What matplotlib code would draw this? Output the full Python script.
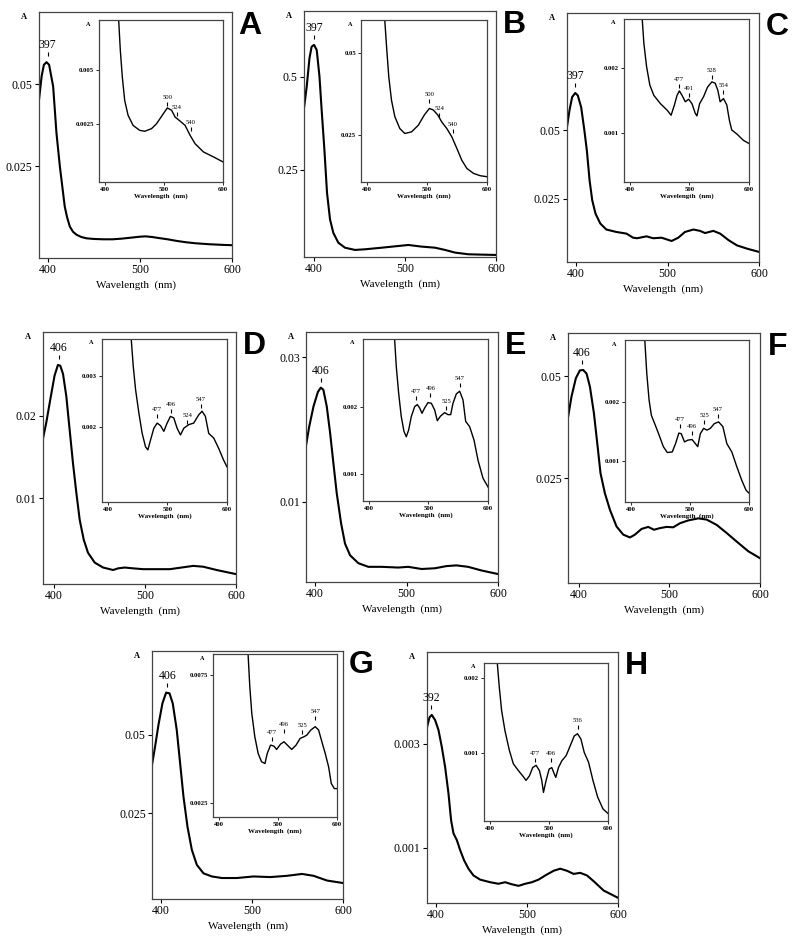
import matplotlib
matplotlib.use("Agg")
import matplotlib.pyplot as plt
from matplotlib.transforms import offset_copy

# ---- spectra (wavelength in nm, absorbance) ----
# A
a_wl = [390, 392.8, 395.3, 398.2, 401, 405.4, 409, 412.7, 418, 420.5, 423.5, 427, 430.8, 436, 441.7, 450, 460, 470, 480, 490, 500, 506, 513, 520, 530, 540, 550, 560, 575, 590, 600]
a_ab = [0.0452, 0.0523, 0.0559, 0.0567, 0.0559, 0.0493, 0.0351, 0.0249, 0.0127, 0.0095, 0.0066, 0.0050, 0.0041, 0.0034, 0.0030, 0.0028, 0.0027, 0.0027, 0.0029, 0.0032, 0.0035, 0.0036, 0.0034, 0.0031, 0.0027, 0.0022, 0.0018, 0.0015, 0.0012, 0.0010, 0.0009]
a_in_wl = [423.3, 426.1, 429.5, 433.5, 439.2, 447.7, 459, 467.6, 479, 487.5, 498.9, 505.7, 513, 518.8, 527.3, 535.8, 544.3, 552.8, 567, 584, 600]
a_in_ab = [0.0073, 0.0059, 0.00466, 0.00358, 0.00289, 0.00242, 0.00219, 0.00215, 0.00227, 0.0025, 0.00296, 0.00323, 0.00312, 0.00281, 0.00262, 0.00242, 0.00196, 0.00157, 0.00119, 0.00096, 0.00073]

# B
b_wl = [389, 392, 395, 397.4, 400, 403, 406, 408.4, 411.4, 414.3, 417.6, 421.2, 426.7, 434, 445, 456, 474.4, 492.7, 503.7, 518.3, 533, 544, 555, 569.6, 584, 600]
b_ab = [0.415, 0.473, 0.549, 0.58, 0.585, 0.571, 0.5, 0.41, 0.304, 0.1875, 0.116, 0.08, 0.0535, 0.04, 0.034, 0.0357, 0.04, 0.0446, 0.0473, 0.0429, 0.04, 0.034, 0.0268, 0.0223, 0.0214, 0.0205]
b_in_wl = [429.6, 433, 436.3, 440.8, 446.4, 454.7, 463, 474.3, 485.5, 495.5, 504, 510.6, 518, 524.6, 533, 541.3, 549.7, 558, 566.5, 577.6, 588.8, 600]
b_in_ab = [0.0599, 0.0508, 0.0427, 0.0356, 0.0306, 0.027, 0.0255, 0.026, 0.028, 0.0311, 0.0331, 0.0326, 0.0311, 0.029, 0.027, 0.0245, 0.021, 0.0174, 0.0149, 0.0134, 0.0127, 0.0124]

# C
c_wl = [389.7, 392.7, 395.6, 399, 401.8, 405.5, 409, 411.7, 414.7, 417.6, 421.2, 426.4, 433, 444, 455, 462.3, 466.7, 477, 484.2, 493.4, 498.9, 504.4, 511.7, 519, 528.2, 535.5, 541, 550, 557.5, 566.7, 575.8, 586.8, 600]
c_ab = [0.0506, 0.0573, 0.0622, 0.0637, 0.0628, 0.0585, 0.05, 0.0427, 0.0317, 0.0244, 0.0195, 0.0159, 0.0137, 0.0128, 0.0122, 0.0107, 0.0105, 0.0112, 0.0105, 0.0107, 0.0101, 0.0095, 0.0107, 0.0128, 0.0137, 0.0132, 0.0124, 0.0132, 0.0122, 0.0098, 0.0079, 0.0067, 0.0055]
c_in_wl = [420.6, 423.4, 427.9, 433.4, 440.1, 451.3, 462.4, 469.1, 474.7, 479.1, 483, 487.5, 493, 498.6, 504.2, 509.7, 512.5, 517, 523.7, 530.4, 537.6, 543.2, 547.6, 551.5, 557.1, 562.7, 567.1, 571, 579.4, 590.5, 600]
c_in_ab = [0.00277, 0.00239, 0.00203, 0.00174, 0.00158, 0.00145, 0.00135, 0.00127, 0.00143, 0.00158, 0.00165, 0.00158, 0.00148, 0.00152, 0.00145, 0.0013, 0.00126, 0.00145, 0.00156, 0.00171, 0.00179, 0.00177, 0.00166, 0.00148, 0.00153, 0.00143, 0.00119, 0.00104, 0.00098, 0.00088, 0.00083]

# D
d_wl = [387.9, 391.6, 396, 400.7, 404.4, 407, 410, 413.6, 417.2, 420.9, 424.6, 428.3, 432.7, 437.4, 444.8, 454, 465, 470.5, 477.8, 487, 498, 512.7, 527.3, 540.2, 553, 564, 578.7, 600]
d_ab = [0.0172, 0.0192, 0.022, 0.0249, 0.0262, 0.0261, 0.0251, 0.0224, 0.0184, 0.0143, 0.0107, 0.0074, 0.005, 0.0034, 0.0022, 0.0016, 0.0013, 0.0015, 0.0016, 0.0015, 0.0014, 0.0014, 0.0014, 0.0016, 0.0018, 0.0017, 0.0013, 0.0008]
d_in_wl = [439.1, 442.5, 446.4, 452, 457.5, 463.1, 467, 471.5, 477.1, 482.7, 488.3, 493.9, 499.4, 505, 510.6, 516.2, 521.8, 527.4, 535.8, 544.1, 552.5, 558.1, 563.7, 569.3, 577.7, 586, 594.4, 600]
d_in_ab = [0.00371, 0.00318, 0.00273, 0.00227, 0.00188, 0.00162, 0.00156, 0.00175, 0.00198, 0.00208, 0.00203, 0.00192, 0.00208, 0.00221, 0.00218, 0.00198, 0.00185, 0.00198, 0.00205, 0.00208, 0.00224, 0.00231, 0.00221, 0.00188, 0.00179, 0.00159, 0.00136, 0.00123]

# E
e_wl = [389.8, 393.5, 398.2, 403, 406.2, 409, 412.7, 416.4, 420, 423.6, 428.4, 432.7, 438.2, 447.3, 458.2, 472.7, 490.9, 501.8, 516.4, 530.9, 543.6, 554.5, 567.3, 581.8, 600]
e_ab = [0.0176, 0.0204, 0.0232, 0.0252, 0.0258, 0.0255, 0.0232, 0.0195, 0.0153, 0.0112, 0.007, 0.0042, 0.0026, 0.0015, 0.001, 0.001, 0.0009, 0.001, 0.0007, 0.0008, 0.0011, 0.0012, 0.001, 0.0005, 0.0]
e_in_wl = [443.1, 445.9, 449.9, 454.3, 458.8, 462.7, 466.7, 471.1, 476.8, 481.2, 485.2, 489.1, 493.6, 499.2, 504.8, 510.4, 514.8, 520.4, 527.2, 532.8, 537.3, 541.2, 546.8, 552.4, 558, 562.5, 569.2, 576.5, 583.2, 591.6, 600]
e_in_ab = [0.00302, 0.00261, 0.00221, 0.00186, 0.00164, 0.00156, 0.00166, 0.00186, 0.00201, 0.00204, 0.00199, 0.00191, 0.00199, 0.00207, 0.00206, 0.00196, 0.0018, 0.00187, 0.00192, 0.00189, 0.00189, 0.00206, 0.0022, 0.00224, 0.00211, 0.00179, 0.00171, 0.00151, 0.00121, 0.00094, 0.00081]

# F
f_wl = [388.2, 391.9, 396.7, 401.1, 404.8, 408.5, 412.2, 416.6, 420.3, 423.9, 428.7, 434.3, 441.6, 449, 456.4, 461.9, 469.2, 476.6, 482.9, 489.5, 496.9, 504.2, 511.6, 520.8, 531.9, 541.1, 552.1, 563.2, 574.2, 587.1, 600]
f_ab = [0.0402, 0.0451, 0.0496, 0.0515, 0.0516, 0.0507, 0.0475, 0.041, 0.0336, 0.0262, 0.0213, 0.0172, 0.0131, 0.0111, 0.0104, 0.0111, 0.0125, 0.013, 0.0123, 0.0127, 0.013, 0.0129, 0.0139, 0.0146, 0.0151, 0.0148, 0.0135, 0.0115, 0.0094, 0.007, 0.0053]
f_in_wl = [423.5, 426.9, 430.8, 434.7, 440.3, 447.6, 454.9, 461.6, 470, 475.6, 481.2, 485.2, 490.8, 496.4, 503.6, 509.2, 513.2, 517.6, 523.2, 528.9, 534.5, 541.2, 548.5, 555.7, 562.5, 570.9, 579.3, 587.7, 595, 600]
f_in_ab = [0.00305, 0.00248, 0.00203, 0.00177, 0.00163, 0.00144, 0.00124, 0.00114, 0.00115, 0.00129, 0.00147, 0.00146, 0.00132, 0.00135, 0.00136, 0.00129, 0.00124, 0.00146, 0.00155, 0.00152, 0.00155, 0.00163, 0.00166, 0.00158, 0.00129, 0.00115, 0.0009, 0.00067, 0.0005, 0.00045]

# G
g_wl = [389.7, 393.4, 397.1, 401.5, 405.5, 409.2, 412.8, 417.2, 420.9, 424.6, 429, 433.8, 439.3, 446.6, 455.8, 466.8, 483.3, 501.7, 520, 538.3, 554.9, 567.7, 582.4, 600]
g_ab = [0.0399, 0.0463, 0.0532, 0.0601, 0.0635, 0.0633, 0.0601, 0.0516, 0.041, 0.0303, 0.0207, 0.0133, 0.0085, 0.0058, 0.0048, 0.0043, 0.0043, 0.0048, 0.0046, 0.005, 0.0056, 0.005, 0.0035, 0.0027]
g_in_wl = [449.4, 452.3, 455.7, 460.8, 466.5, 472.2, 478, 481.8, 487.5, 493.2, 497.7, 504.5, 510.2, 515.9, 523.3, 530.7, 537.5, 544.3, 548.9, 555.7, 563.1, 568.8, 574.4, 580.1, 585.8, 590.3, 595.5, 600]
g_in_ab = [0.00831, 0.00704, 0.00599, 0.00508, 0.00442, 0.0041, 0.00403, 0.00442, 0.00475, 0.00471, 0.00458, 0.00479, 0.00488, 0.00475, 0.00458, 0.00475, 0.00501, 0.00508, 0.00514, 0.00534, 0.00547, 0.00534, 0.00488, 0.00442, 0.0039, 0.00325, 0.00305, 0.00305]

# H
h_wl = [389.7, 392.7, 395.2, 398.9, 402.6, 406.2, 409.9, 413.6, 416.5, 419.1, 422.8, 426.4, 430.8, 435.6, 441.1, 448.4, 459.4, 468.6, 475.9, 483.3, 490.6, 498, 505.3, 512.7, 520, 529.2, 536.5, 543.9, 551.2, 558.5, 565.9, 573.2, 584.2, 600]
h_ab = [0.0033, 0.00351, 0.00356, 0.00346, 0.00327, 0.00295, 0.00256, 0.00205, 0.00153, 0.00128, 0.00115, 0.00096, 0.00076, 0.0006, 0.00047, 0.00039, 0.00034, 0.00031, 0.00034, 0.0003, 0.00027, 0.00031, 0.00034, 0.00039, 0.00047, 0.00056, 0.0006, 0.00056, 0.0005, 0.00052, 0.00047, 0.00036, 0.00018, 0.00004]
h_in_wl = [412.5, 415.9, 419.8, 425.5, 432.9, 439.7, 448.2, 455.5, 461.2, 466.9, 472.5, 478.2, 483.9, 487.8, 490.7, 495.2, 500.3, 504.8, 508.8, 511.6, 516.1, 521.8, 529.2, 536, 542.8, 548.4, 554.1, 559.8, 567.1, 574.5, 582.4, 591.5, 600]
h_in_ab = [0.0022, 0.00188, 0.00157, 0.0013, 0.00104, 0.00086, 0.00077, 0.0007, 0.00064, 0.0007, 0.00081, 0.00084, 0.00077, 0.00064, 0.00048, 0.00064, 0.00079, 0.00081, 0.00073, 0.00068, 0.00081, 0.0009, 0.00097, 0.0011, 0.00123, 0.00126, 0.00119, 0.00101, 0.00088, 0.00064, 0.00042, 0.00026, 0.0002]

# peak labels: main (text, wavelength, absorbance) and inset marks
main_peaks = [("397", 399.5, 0.0567), ("397", 400, 0.585), ("397", 399, 0.0637), ("406", 405.5, 0.0262),
              ("406", 406.2, 0.0258), ("406", 403, 0.0516), ("406", 407, 0.0635), ("392", 394.5, 0.00356)]
a_marks = [("500", 505.7, 0.0033), ("524", 521.6, 0.00284), ("540", 545.5, 0.00215)]
b_marks = [("500", 504, 0.0346), ("524", 520.7, 0.0306), ("540", 543, 0.0255)]
c_marks = [("477", 481.9, 0.00169), ("491", 499.7, 0.00156), ("528", 537.6, 0.00183), ("554", 557.1, 0.0016)]
d_marks = [("477", 482.7, 0.00218), ("496", 506.1, 0.00227), ("524", 533, 0.00206), ("547", 556.4, 0.00237)]
e_marks = [("477", 479.6, 0.00211), ("496", 503.1, 0.00216), ("525", 530, 0.00196), ("547", 552.4, 0.0023)]
f_marks = [("477", 482.4, 0.00156), ("496", 503.1, 0.00144), ("525", 524.4, 0.00162), ("547", 546.8, 0.00172)]
g_marks = [("477", 490.3, 0.00492), ("496", 510.2, 0.00521), ("525", 541.5, 0.00517), ("547", 563.1, 0.00573)]
h_marks = [("477", 476.5, 0.00088), ("496", 503.1, 0.00088), ("536", 548.4, 0.00132)]

# axis ranges and ticks
main_ylims = [(-0.003, 0.072), (0.015, 0.676), (0.0018, 0.093), (-0.0004, 0.0302),
              (-0.0011, 0.0335), (-0.0008, 0.0607), (-0.0024, 0.0768), (-0.00006, 0.00477)]
main_yticks = [(0.025, 0.05), (0.25, 0.5), (0.025, 0.05), (0.01, 0.02),
               (0.01, 0.03), (0.025, 0.05), (0.025, 0.05), (0.001, 0.003)]
main_ytlabels = [("0.025", "0.05"), ("0.25", "0.5"), ("0.025", "0.05"), ("0.01", "0.02"),
                 ("0.01", "0.03"), ("0.025", "0.05"), ("0.025", "0.05"), ("0.001", "0.003")]
main_xmin = [390, 389, 390, 388, 390, 388, 390, 390]
inset_ylims = [(-0.0002, 0.0073), (0.0108, 0.0599), (0.00023, 0.00277), (0.00055, 0.00371),
               (0.0006, 0.00302), (0.0003, 0.00305), (0.00194, 0.00831), (0.0001, 0.0022)]
inset_yticks = [(0.0025, 0.005), (0.025, 0.05), (0.001, 0.002), (0.002, 0.003),
                (0.001, 0.002), (0.001, 0.002), (0.0025, 0.0075), (0.001, 0.002)]
inset_ytlabels = [("0.0025", "0.005"), ("0.025", "0.05"), ("0.001", "0.002"), ("0.002", "0.003"),
                  ("0.001", "0.002"), ("0.001", "0.002"), ("0.0025", "0.0075"), ("0.001", "0.002")]
letters = ["A", "B", "C", "D", "E", "F", "G", "H"]

# pixel boxes (left, right, top, bottom) of the frames on the 800x946 page
main_boxes = [(39, 232, 12, 258), (304, 496, 11, 257), (567, 759, 13, 262),
              (43, 236, 332, 584), (306, 498, 332, 582), (568, 760, 333, 583),
              (152, 343, 651, 899), (427, 618, 652, 903)]
inset_boxes = [(99, 223, 20, 182), (361, 487, 20, 182), (624, 749, 19, 182),
               (102, 227, 339, 502), (363, 488, 339, 501), (625, 749, 340, 502),
               (213, 337, 654, 817), (484, 608, 663, 821)]

main_x = [a_wl, b_wl, c_wl, d_wl, e_wl, f_wl, g_wl, h_wl]
main_y = [a_ab, b_ab, c_ab, d_ab, e_ab, f_ab, g_ab, h_ab]
inset_x = [a_in_wl, b_in_wl, c_in_wl, d_in_wl, e_in_wl, f_in_wl, g_in_wl, h_in_wl]
inset_y = [a_in_ab, b_in_ab, c_in_ab, d_in_ab, e_in_ab, f_in_ab, g_in_ab, h_in_ab]
inset_marks = [a_marks, b_marks, c_marks, d_marks, e_marks, f_marks, g_marks, h_marks]

W, H = 800, 946
SERIF = "Liberation Serif"
FRAME = "#444444"

fig = plt.figure(figsize=(W / 100, H / 100), dpi=100)


def add_box(l, r, t, b):
    return fig.add_axes([l / W, 1 - b / H, (r - l) / W, (b - t) / H])


def style(ax, tick_len, tick_w, size, bold):
    for sp in ax.spines.values():
        sp.set_color(FRAME)
        sp.set_linewidth(0.9)
    ax.tick_params(direction="out", length=tick_len, width=tick_w, pad=1.5,
                   labelsize=size, colors="black", top=False, right=False)
    for lab in ax.get_xticklabels() + ax.get_yticklabels():
        lab.set_family(SERIF)
        if bold:
            lab.set_fontweight("bold")


def peak_mark(ax, text, x, y, tick_up, tick_ms, base_up, size):
    tr = offset_copy(ax.transData, fig=fig, x=0, y=tick_up, units="dots")
    ax.plot([x], [y], marker="|", ms=tick_ms, mew=0.8, color="black", transform=tr, clip_on=False)
    ax.annotate(text, xy=(x, y), xytext=(0, base_up), textcoords="offset pixels",
                ha="center", va="baseline", fontsize=size, family=SERIF)


for i in range(8):
    ax = add_box(*main_boxes[i])
    ax.plot(main_x[i], main_y[i], color="black", lw=1.5, solid_joinstyle="round")
    ax.set_xlim(main_xmin[i], 600)
    ax.set_ylim(*main_ylims[i])
    ax.set_xticks([400, 500, 600])
    ax.set_yticks(main_yticks[i])
    ax.set_yticklabels(main_ytlabels[i])
    ax.set_xlabel("Wavelength  (nm)", family=SERIF, fontsize=8, labelpad=3)
    style(ax, 3, 0.8, 8.5, False)
    txt, px, py = main_peaks[i]
    peak_mark(ax, txt, px, py, 8, 3.5, 14, 8.5)
    ax.annotate("A", xy=(0, 1), xycoords="axes fraction", xytext=(-15, -5),
                textcoords="offset pixels", ha="center", va="center",
                fontsize=6, fontweight="bold", family=SERIF)
    ax.annotate(letters[i], xy=(1, 1), xycoords="axes fraction", xytext=(18, -14),
                textcoords="offset pixels", ha="center", va="center",
                fontsize=23, fontweight="bold", family="Liberation Sans")

    ins = add_box(*inset_boxes[i])
    ins.plot(inset_x[i], inset_y[i], color="black", lw=1.0, solid_joinstyle="round")
    ins.set_xlim(390, 600)
    ins.set_ylim(*inset_ylims[i])
    ins.set_xticks([400, 500, 600])
    ins.set_yticks(inset_yticks[i])
    ins.set_yticklabels(inset_ytlabels[i])
    ins.set_xlabel("Wavelength  (nm)", family=SERIF, fontsize=5, fontweight="bold", labelpad=1)
    style(ins, 2, 0.6, 4.8, True)
    for txt, px, py in inset_marks[i]:
        peak_mark(ins, txt, px, py, 2, 3, 7, 4.8)
    ins.annotate("A", xy=(0, 1), xycoords="axes fraction", xytext=(-11, -4),
                 textcoords="offset pixels", ha="center", va="center",
                 fontsize=4.5, fontweight="bold", family=SERIF)

fig.savefig("out.png", dpi=100)
